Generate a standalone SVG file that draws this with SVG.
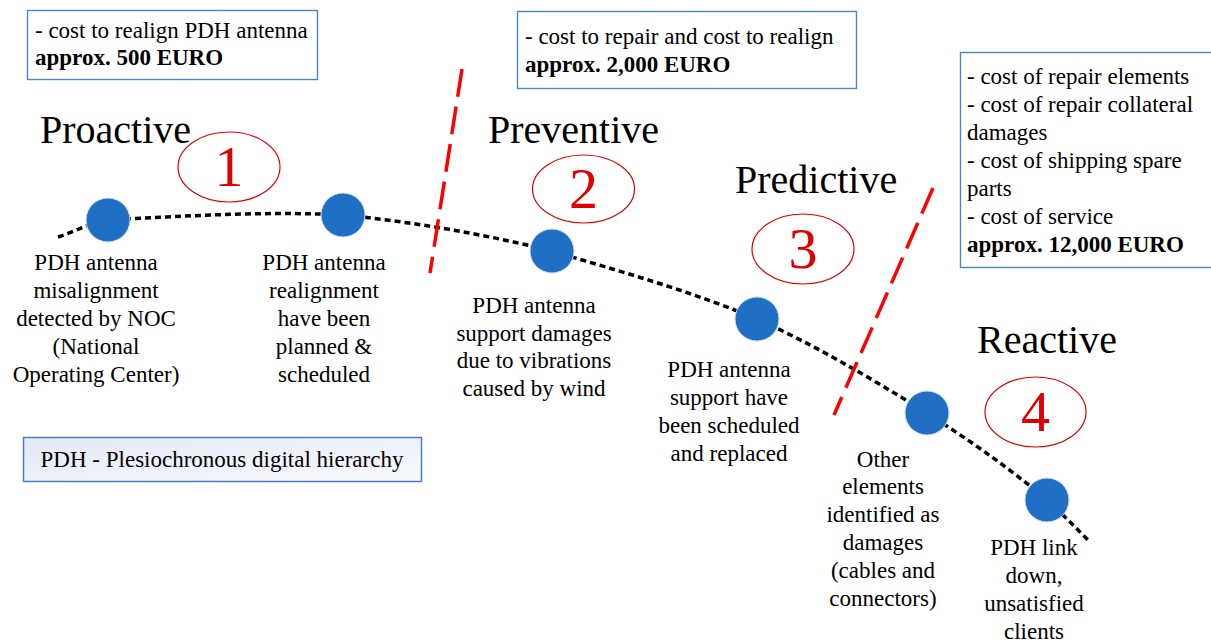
<svg xmlns="http://www.w3.org/2000/svg" width="1211" height="640" viewBox="0 0 1211 640">
<defs>
<linearGradient id="lg" x1="0" y1="0" x2="1" y2="1">
<stop offset="0" stop-color="#E3EAF6"/>
<stop offset="1" stop-color="#F7F9FC"/>
</linearGradient>
<style>
text{font-family:"Liberation Serif","Times New Roman",serif;fill:#000}
.t{font-size:23px}
.lb{font-size:23px;text-anchor:middle}
.b{font-weight:bold}
.h{font-size:40px}
.n{font-size:58px;fill:#E00000;text-anchor:middle}
.box{fill:#fff;stroke:#4A86C8;stroke-width:1.4}
.ell{fill:none;stroke:#E00000;stroke-width:1.2}
.node{fill:#1F70C5;stroke:#D5DCE4;stroke-width:1}
.curve{fill:none;stroke:#000;stroke-width:3.5;stroke-dasharray:6 4}
.red{fill:none;stroke:#FF0000;stroke-width:3.5;stroke-dasharray:28 10}
</style>
</defs>
<rect width="1211" height="640" fill="#fff"/>

<g id="cost1">
<rect class="box" x="27.5" y="10.5" width="290" height="69"/>
<text class="t" x="35" y="38">- cost to realign PDH antenna</text>
<text class="t b" x="35" y="65">approx. 500 EURO</text>
</g>
<g id="cost2">
<rect class="box" x="517.5" y="11.5" width="339" height="77"/>
<text class="t" x="525" y="44">- cost to repair and cost to realign</text>
<text class="t b" x="525" y="72">approx. 2,000 EURO</text>
</g>
<g id="cost3">
<rect class="box" x="960.5" y="52.5" width="270" height="215"/>
<text class="t" x="967" y="84">- cost of repair elements</text>
<text class="t" x="967" y="112">- cost of repair collateral</text>
<text class="t" x="967" y="140">damages</text>
<text class="t" x="967" y="168">- cost of shipping spare</text>
<text class="t" x="967" y="196">parts</text>
<text class="t" x="967" y="224">- cost of service</text>
<text class="t b" x="967" y="252">approx. 12,000 EURO</text>
</g>
<g id="legend">
<rect x="23.5" y="437.5" width="398" height="44" fill="url(#lg)" stroke="#4A7EC0" stroke-width="1.5"/>
<text class="t" x="222" y="467" text-anchor="middle">PDH - Plesiochronous digital hierarchy</text>
</g>

<g id="phase-proactive">
<text class="h" x="40" y="143">Proactive</text>
<ellipse class="ell" cx="229" cy="167" rx="51" ry="35"/>
<text class="n" x="229" y="186">1</text>
</g>
<g id="phase-preventive">
<text class="h" x="488" y="143">Preventive</text>
<ellipse class="ell" cx="583.5" cy="189" rx="51" ry="34"/>
<text class="n" x="583.5" y="208">2</text>
</g>
<g id="phase-predictive">
<text class="h" x="735" y="193">Predictive</text>
<ellipse class="ell" cx="803" cy="249" rx="51" ry="35"/>
<text class="n" x="803" y="268">3</text>
</g>
<g id="phase-reactive">
<text class="h" x="977" y="353">Reactive</text>
<ellipse class="ell" cx="1035.5" cy="412" rx="50.5" ry="35"/>
<text class="n" x="1035.5" y="431">4</text>
</g>

<g id="connectors">
<path class="curve" d="M58,237 C74.7,231.7 91.3,222 108,220 C186.3,216 264.7,211 343,215 C412.7,222 482.3,233.6 552,251 C620.3,271.5 688.7,290.3 757,319 C813.7,344.5 870.3,377.9 927,413 C967,439 1007,466 1047,500 C1061.3,512.9 1075.7,527.7 1090,542"/>
<line class="red" x1="462" y1="69" x2="430" y2="273"/>
<line class="red" x1="933" y1="188" x2="834" y2="415"/>
</g>

<g id="node1">
<circle class="node" cx="108" cy="220" r="22"/>
<text class="lb" x="96" y="270">PDH antenna</text>
<text class="lb" x="96" y="298">misalignment</text>
<text class="lb" x="96" y="326">detected by NOC</text>
<text class="lb" x="96" y="354">(National</text>
<text class="lb" x="96" y="382">Operating Center)</text>
</g>
<g id="node2">
<circle class="node" cx="343" cy="215" r="22"/>
<text class="lb" x="324" y="270">PDH antenna</text>
<text class="lb" x="324" y="298">realignment</text>
<text class="lb" x="324" y="326">have been</text>
<text class="lb" x="324" y="354">planned &amp;</text>
<text class="lb" x="324" y="382">scheduled</text>
</g>
<g id="node3">
<circle class="node" cx="552" cy="251" r="22"/>
<text class="lb" x="534" y="313">PDH antenna</text>
<text class="lb" x="534" y="341">support damages</text>
<text class="lb" x="534" y="368">due to vibrations</text>
<text class="lb" x="534" y="396">caused by wind</text>
</g>
<g id="node4">
<circle class="node" cx="757" cy="319" r="22"/>
<text class="lb" x="729" y="377">PDH antenna</text>
<text class="lb" x="729" y="405">support have</text>
<text class="lb" x="729" y="433">been scheduled</text>
<text class="lb" x="729" y="461">and replaced</text>
</g>
<g id="node5">
<circle class="node" cx="927" cy="413" r="22"/>
<text class="lb" x="883" y="467">Other</text>
<text class="lb" x="883" y="494">elements</text>
<text class="lb" x="883" y="522">identified as</text>
<text class="lb" x="883" y="550">damages</text>
<text class="lb" x="883" y="578">(cables and</text>
<text class="lb" x="883" y="606">connectors)</text>
</g>
<g id="node6">
<circle class="node" cx="1047" cy="500" r="22"/>
<text class="lb" x="1034" y="555">PDH link</text>
<text class="lb" x="1034" y="583">down,</text>
<text class="lb" x="1034" y="611">unsatisfied</text>
<text class="lb" x="1034" y="639">clients</text>
</g>
</svg>
